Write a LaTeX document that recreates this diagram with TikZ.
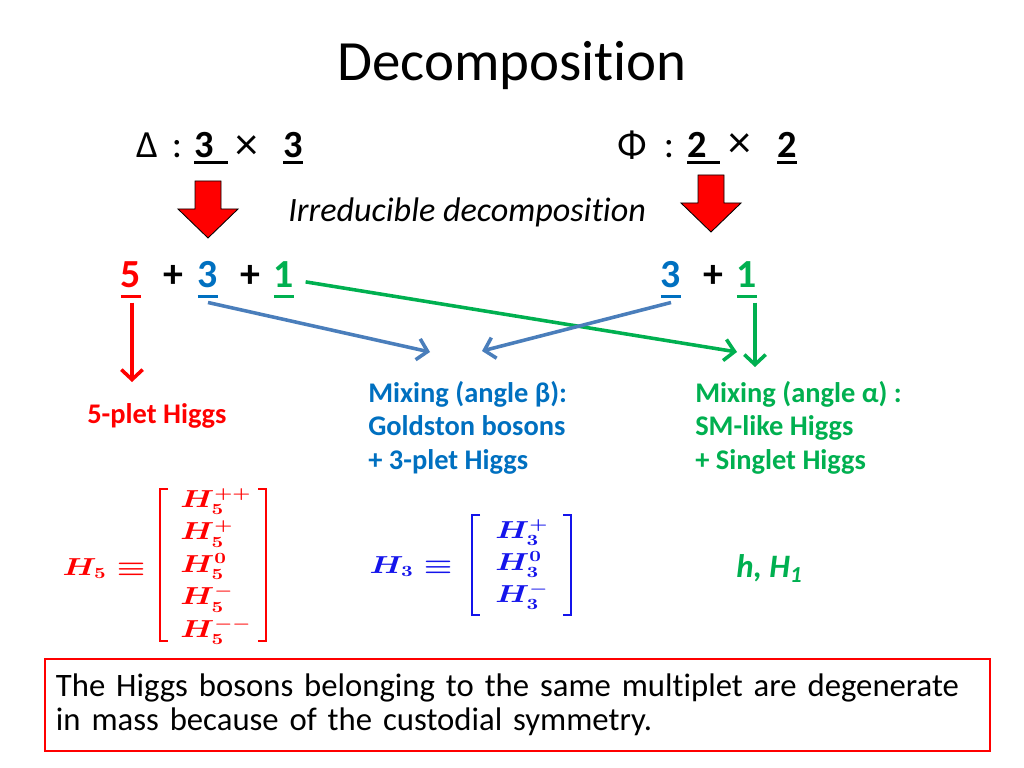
\documentclass[tikz,border=0pt]{standalone}
\usepackage[no-math]{fontspec}
\setmainfont{Carlito}[Ligatures=NoCommon]
\usepackage{amsmath}
\usepackage{graphicx}
\usetikzlibrary{arrows.meta}
\definecolor{pptred}{RGB}{255,0,0}
\definecolor{pptblue}{RGB}{0,112,192}
\definecolor{pptgreen}{RGB}{0,176,80}
\definecolor{linkblue}{RGB}{74,126,187}
\definecolor{mathblue}{RGB}{20,20,235}
\newsavebox{\ulbox}
\newcommand{\ulin}[2][0.25em]{\sbox\ulbox{#2}\rlap{\rule[-#1]{\wd\ulbox}{0.07em}}\usebox\ulbox}
\newcommand{\wide}[1]{\scalebox{1.3}[1]{#1}}
\tikzstyle{heading} = [font=\fontsize{40}{48}\selectfont, inner sep=0pt]
\tikzstyle{rep} = [font=\fontsize{27}{32}\selectfont, inner sep=0pt, anchor=base]
\tikzstyle{times} = [font=\fontsize{32}{38}\selectfont, inner sep=0pt]
\tikzstyle{digit} = [font=\fontsize{28}{34}\selectfont\bfseries, inner xsep=0pt, inner ysep=3pt, anchor=base]
\tikzstyle{note} = [font=\fontsize{20}{23.6}\selectfont\bfseries, align=left, inner sep=0pt]
\tikzstyle{entry} = [font=\fontsize{16}{19}\selectfont\boldmath, inner sep=0pt, anchor=base]
\tikzstyle{bracket} = [line width=1.3pt]
\tikzstyle{blockarrow} = [fill=red, draw=black, line width=0.6pt, line join=miter]
\tikzstyle{flow} = [line width=2.5pt, -{Straight Barb[length=7pt,width=15pt]}]

\begin{document}
\begin{tikzpicture}[x=0.703125pt, y=-0.703125pt]
    \useasboundingbox (0,0) rectangle (1024,768);
    \fill [white] (0,0) rectangle (1024,768);

    \node [heading, anchor=base, name=title] at (512,81) {Decomposition};

    % Delta : 3 x 3
    \node [rep, name=delta] at (147,158) {Δ};
    \node [rep, name=dcolon] at (177,158) {:};
    \node [rep, anchor=base west, name=dleft] at (194,158) {\ulin[0.15em]{\textbf{3}\hspace{10pt}}};
    \node [times, name=dtimes] at (247,148) {×};
    \node [rep, anchor=base west, name=dright] at (283,158) {\ulin[0.15em]{\textbf{3}}};

    % Phi : 2 x 2
    \node [rep, name=phi] at (632,158) {Φ};
    \node [rep, name=pcolon] at (669,158) {:};
    \node [rep, anchor=base west, name=pleft] at (687,158) {\ulin[0.15em]{\textbf{2}\hspace{9.5pt}}};
    \node [times, name=ptimes] at (740,146) {×};
    \node [rep, anchor=base west, name=pright] at (777,158) {\ulin[0.15em]{\textbf{2}}};

    % red block arrows
    \foreach \cx/\ty in {208/181, 711/175}
        \draw [blockarrow] (\cx-13,\ty) -- (\cx+13,\ty) -- (\cx+13,\ty+28) -- (\cx+30,\ty+28)
            -- (\cx,\ty+57) -- (\cx-30,\ty+28) -- (\cx-13,\ty+28) -- cycle;

    \node [font=\fontsize{24}{29}\selectfont\itshape, anchor=base west, inner sep=0pt, name=irr] at (288,222) {Irreducible decomposition};

    \node [digit, pptred, name=five] at (131,288) {\ulin{5}};
    \node [digit, name=plusA] at (173,288) {+};
    \node [digit, pptblue, name=three] at (208,288) {\ulin{3}};
    \node [digit, name=plusB] at (250,288) {+};
    \node [digit, pptgreen, name=one] at (284,288) {\ulin{1}};

    \node [digit, pptblue, name=threeR] at (671,288) {\ulin{3}};
    \node [digit, name=plusR] at (713,288) {+};
    \node [digit, pptgreen, name=oneR] at (747,288) {\ulin{1}};

    \coordinate (endR) at (132,382);
    \coordinate (endB1) at (430,352);
    \coordinate (endB2) at (482,351);
    \coordinate (endG1) at (737,352);
    \coordinate (endG2) at (755,367);

    \draw [flow, pptred] (five.south -| endR) -- (endR);
    \draw [flow, linkblue] (three.south) -- (endB1);
    \draw [flow, pptgreen, shorten <=8pt] (one.east) -- (endG1);
    \draw [flow, linkblue] (threeR.south) -- (endB2);
    \draw [flow, pptgreen] (oneR.south -| endG2) -- (endG2);

    \node [note, pptred, anchor=base west, name=fiveplet] at (87,423) {5-plet Higgs};
    \node [note, pptblue, anchor=north west, name=mixB] at (368,381) {Mixing (angle β):\\Goldston bosons\\+ 3-plet Higgs};
    \node [note, pptgreen, anchor=north west, name=mixA] at (695,381) {Mixing (angle α) :\\SM-like Higgs\\+ Singlet Higgs};

    % 5-plet vector
    \node [entry, pptred, name=hfive] at (104,575) {\wide{$H_5 \equiv$}};
    \foreach \sup/\row in {{++}/0, {+}/1, {0}/2, {-}/3, {--}/4}
        \node [entry, pptred, anchor=base west, name=hfive\row] at (180,507+32.5*\row) {\wide{$H_5^{\sup}$}};
    \draw [bracket, pptred] (168,489) -- (160,489) -- (160,641) -- (168,641);
    \draw [bracket, pptred] (258,489) -- (266,489) -- (266,641) -- (258,641);

    % 3-plet vector
    \node [entry, mathblue, name=hthree] at (411,573) {\wide{$H_3 \equiv$}};
    \foreach \sup/\row in {{+}/0, {0}/1, {-}/2}
        \node [entry, mathblue, anchor=base west, name=hthree\row] at (495,538+32*\row) {\wide{$H_3^{\sup}$}};
    \draw [bracket, mathblue] (480,515) -- (472,515) -- (472,615) -- (480,615);
    \draw [bracket, mathblue] (563,515) -- (571,515) -- (571,615) -- (563,615);

    \node [font=\fontsize{23}{27}\selectfont\bfseries\itshape, pptgreen, anchor=base west, inner sep=0pt, name=light] at (736,577) {h, H\textsubscript{1}};

    \node [draw=pptred, line width=1.4pt, anchor=north west, inner xsep=7.7pt, inner ysep=0pt,
        text width=649pt, minimum height=64.7pt, align=left, font=\fontsize{23}{24}\selectfont, name=remark]
        at (44,658) {The Higgs bosons belonging to the same multiplet are degenerate\\in mass because of the custodial symmetry.};

\end{tikzpicture}
\end{document}
